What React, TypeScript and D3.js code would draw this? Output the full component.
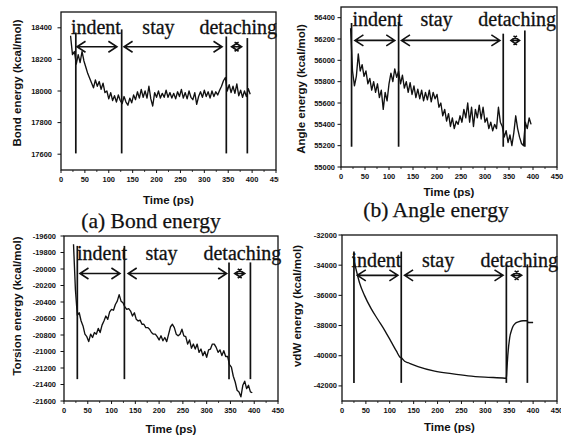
import React from "react";
import * as d3 from "d3";

const W = 575;
const H = 438;

// sample grid (ps) shared by the three noisy energy traces
const times = d3.range(20, 400, 4);

const bondEnergy = [
  18350, 18230, 18250, 18170, 18230, 18180, 18250, 18190, 18150, 18110,
  18080, 18050, 18020, 18070, 18030, 18060, 18010, 18050, 17990, 18000,
  17950, 17990, 17940, 17970, 17930, 17975, 17940, 17920, 17965, 17930,
  17910, 17955, 17925, 17975, 17945, 17995, 17955, 18010, 17960, 18000,
  17955, 18030, 17950, 17905, 17990, 17960, 18000, 17955, 17985, 17960,
  18005, 17960, 17990, 17955, 17985, 17950, 17995, 17965, 18010, 17955,
  17990, 17950, 18000, 17960, 17945, 17990, 17915, 17965, 17995, 17960,
  18005, 17965, 17995, 17955, 18000, 17965, 17995, 17975, 18005, 18030,
  18065, 18085, 18000, 18040, 17990, 18030, 17985, 18045, 17970, 18005,
  17960, 18000, 17965, 18015, 17980,
];

const angleEnergy = [
  56300, 55900, 55760, 55850, 56060, 55900, 55960, 55850, 55900, 55780,
  55830, 55720, 55800, 55700, 55780, 55650, 55720, 55540, 55700, 55620,
  55780, 55880, 55800, 55920, 55840, 55900, 55780, 55860, 55740, 55800,
  55700, 55790, 55680, 55760, 55650, 55730, 55640, 55720, 55620, 55700,
  55630, 55720, 55610, 55700, 55640, 55680, 55560, 55600, 55480, 55540,
  55430, 55500, 55380, 55460, 55360, 55430, 55400, 55480, 55420, 55540,
  55460, 55600, 55420, 55560, 55380, 55540, 55460, 55580, 55450, 55560,
  55420, 55460, 55360, 55420, 55340, 55400, 55360, 55560, 55420, 55380,
  55280, 55340, 55230, 55300, 55200, 55320, 55480, 55360, 55280, 55220,
  55200, 55420, 55360, 55460, 55400,
];

const torsionEnergy = [
  -19700, -20250, -20560, -20530, -20630, -20690, -20790, -20820, -20880, -20790,
  -20830, -20770, -20790, -20720, -20770, -20680, -20630, -20570, -20610, -20520,
  -20490, -20500, -20430, -20390, -20310, -20390, -20410, -20460, -20490, -20480,
  -20510, -20570, -20530, -20610, -20630, -20620, -20670, -20670, -20710, -20710,
  -20730, -20770, -20790, -20790, -20820, -20860, -20810, -20870, -20830, -20880,
  -20790, -20700, -20670, -20710, -20790, -20810, -20790, -20730, -20810, -20820,
  -20910, -20860, -20960, -20910, -20970, -20910, -21010, -20970, -21050, -21000,
  -21070, -20980, -20970, -20910, -20910, -20950, -21010, -20980, -21050, -20990,
  -21060, -21060, -21160, -21190, -21300, -21370, -21470, -21490, -21550, -21410,
  -21360, -21450, -21410, -21490, -21500,
];

const vdwTimes = [
  23, 30, 37, 47, 61, 75, 89, 103, 114, 121, 125, 131, 138, 159, 194, 229,
  264, 299, 341, 344, 345, 347, 351, 355, 358, 363, 369, 379, 388, 389, 400,
];
const vdwEnergy = [
  -33400, -34350, -35200, -36000, -36880, -37600, -38300, -39080, -39700,
  -40080, -40160, -40370, -40460, -40720, -41020, -41190, -41330, -41420,
  -41490, -41500, -41000, -40000, -38800, -38300, -38050, -37850, -37760,
  -37680, -37680, -37800, -37800,
];

const xTicks = d3.range(0, 451, 50);
const xMinorTicks = d3.range(25, 450, 50);
const phaseNames = ["indent", "stay", "detaching"];

// phase boundaries (ps) drawn as vertical lines, with their top ends (energy)
const bondBounds = [31, 127, 346, 390];
const bondBoundTops = [18370, 18390, 18345, 18335];
const angleBounds = [22, 120, 338, 383];
const angleBoundTops = [56350, 56360, 56250, 56280];
const torsionBounds = [28, 127, 347, 392];
const torsionBoundTops = [-19720, -19720, -19920, -19920];
const vdwBounds = [25, 124, 344, 388];
const vdwBoundTops = [-33100, -33100, -33950, -33950];

// double arrows [from, to] in ps, one per phase
const bondArrows: [number, number][] = [[33.5, 117], [132, 337], [357, 378]];
const angleArrows: [number, number][] = [[29, 112], [126, 331], [354, 372]];
const torsionArrows: [number, number][] = [[33.6, 117.6], [135, 342], [359, 380]];
const vdwArrows: [number, number][] = [[32, 117], [131, 337], [355, 376]];

// phase label centres (ps)
const bondLabelX = [73, 204, 371];
const angleLabelX = [76, 199, 367];
const torsionLabelX = [80, 205, 375];
const vdwLabelX = [72, 201, 371];

const serif = "'Liberation Serif', 'Times New Roman', serif";
const sans = "'Liberation Sans', Arial, sans-serif";
const ink = "#111";

type PanelDef = {
  id: string;
  t: number[];
  v: number[];
  smooth?: boolean;
  yDomain: [number, number];
  yTicks: number[];
  yTitle: string;
  caption?: string;
  bounds: number[];
  boundTops: number[];
  boundBottom: number;
  arrows: [number, number][];
  arrowY: number;
  labelX: number[];
  labelY: number;
  box: { l: number; r: number; t: number; b: number };
  labelGap: number;
  yTitlePos: [number, number];
  xTitleY: number;
  captionPos?: [number, number];
  clipRight: number;
};

const panels: PanelDef[] = [
  {
    id: "a", t: times, v: bondEnergy,
    yDomain: [17500, 18500], yTicks: d3.range(17600, 18401, 200),
    yTitle: "Bond energy (kcal/mol)", caption: "(a) Bond energy",
    bounds: bondBounds, boundTops: bondBoundTops, boundBottom: 17605,
    arrows: bondArrows, arrowY: 18280, labelX: bondLabelX, labelY: 18360,
    box: { l: 61, r: 276, t: 12, b: 170 }, labelGap: 9, yTitlePos: [17, 83], xTitleY: 204,
    captionPos: [151, 228], clipRight: 278.5,
  },
  {
    id: "b", t: times, v: angleEnergy,
    yDomain: [55000, 56500], yTicks: d3.range(55000, 56401, 200),
    yTitle: "Angle energy (kcal/mol)", caption: "(b) Angle energy",
    bounds: angleBounds, boundTops: angleBoundTops, boundBottom: 55190,
    arrows: angleArrows, arrowY: 56187, labelX: angleLabelX, labelY: 56320,
    box: { l: 341, r: 557, t: 7, b: 167 }, labelGap: 6, yTitlePos: [301, 89], xTitleY: 196,
    captionPos: [436, 216.5], clipRight: 575,
  },
  {
    id: "c", t: times, v: torsionEnergy,
    yDomain: [-21600, -19600], yTicks: d3.range(-21600, -19599, 200),
    yTitle: "Torsion energy (kcal/mol)",
    bounds: torsionBounds, boundTops: torsionBoundTops, boundBottom: -21335,
    arrows: torsionArrows, arrowY: -20055, labelX: torsionLabelX, labelY: -19885,
    box: { l: 64, r: 278, t: 236, b: 401 }, labelGap: 8, yTitlePos: [17, 306], xTitleY: 433,
    clipRight: 290,
  },
  {
    id: "d", t: vdwTimes, v: vdwEnergy, smooth: true,
    yDomain: [-43000, -32000], yTicks: d3.range(-42000, -31999, 2000),
    yTitle: "vdW energy (kcal/mol)",
    bounds: vdwBounds, boundTops: vdwBoundTops, boundBottom: -41800,
    arrows: vdwArrows, arrowY: -34675, labelX: vdwLabelX, labelY: -34100,
    box: { l: 342, r: 557, t: 235, b: 401 }, labelGap: 5, yTitlePos: [297, 306], xTitleY: 431,
    clipRight: 561,
  },
];

const arrowPath = (x1: number, x2: number, y: number) => {
  const len = x2 - x1;
  const h = Math.min(8.5, len * 0.7);
  const w = len < 30 ? 4.5 : 5.5;
  return `M${x1},${y}L${x2},${y}` +
    `M${x1 + h},${y - w}L${x1},${y}L${x1 + h},${y + w}` +
    `M${x2 - h},${y - w}L${x2},${y}L${x2 - h},${y + w}`;
};

const Panel = ({ p }: { p: PanelDef }) => {
  const { l, r, t, b } = p.box;
  const x = d3.scaleLinear().domain([0, 450]).range([l, r]);
  const y = d3.scaleLinear().domain(p.yDomain).range([b, t]);
  const path = d3
    .line<number>()
    .x((_, i) => x(p.t[i]))
    .y((d) => y(d))
    .curve(p.smooth ? d3.curveMonotoneX : d3.curveLinear)(p.v);

  return (
    <g clipPath={`url(#clip-${p.id})`}>
      <defs>
        <clipPath id={`clip-${p.id}`}>
          <rect x={0} y={0} width={p.clipRight} height={H} />
        </clipPath>
      </defs>
      <rect x={l} y={t} width={r - l} height={b - t} fill="none" stroke={ink} strokeWidth={1.3} />

      {xTicks.map((v) => (
        <g key={`xt${v}`}>
          <line x1={x(v)} x2={x(v)} y1={b} y2={b + 3} stroke={ink} strokeWidth={1} />
          <text x={x(v)} y={b + 9} textAnchor="middle" dominantBaseline="central"
            fontFamily={sans} fontWeight="bold" fontSize={7.5} fill={ink}>{v}</text>
        </g>
      ))}
      {xMinorTicks.map((v) => (
        <line key={`xm${v}`} x1={x(v)} x2={x(v)} y1={b} y2={b + 2} stroke={ink} strokeWidth={0.8} />
      ))}
      {p.yTicks.map((v) => (
        <g key={`yt${v}`}>
          <line x1={l - 3.5} x2={l} y1={y(v)} y2={y(v)} stroke={ink} strokeWidth={1} />
          <text x={l - p.labelGap} y={y(v)} textAnchor="end" dominantBaseline="central"
            fontFamily={sans} fontWeight="bold" fontSize={7.5} fill={ink}>{String(v)}</text>
        </g>
      ))}

      <text x={(l + r) / 2} y={p.xTitleY} textAnchor="middle"
        fontFamily={sans} fontWeight="bold" fontSize={11.5} fill={ink}>Time (ps)</text>
      <text transform={`translate(${p.yTitlePos[0]},${p.yTitlePos[1]}) rotate(-90)`}
        textAnchor="middle" dominantBaseline="central"
        fontFamily={sans} fontWeight="bold" fontSize={11.5} fill={ink}>{p.yTitle}</text>

      {p.bounds.map((v, i) => (
        <line key={`bd${i}`} x1={x(v)} x2={x(v)} y1={y(p.boundTops[i])} y2={y(p.boundBottom)}
          stroke={ink} strokeWidth={1.7} />
      ))}

      <path d={path ?? ""} fill="none" stroke={ink} strokeWidth={1.35} strokeLinejoin="round" />

      {p.arrows.map(([a, c], i) => (
        <path key={`ar${i}`} d={arrowPath(x(a), x(c), y(p.arrowY))} fill="none"
          stroke={ink} strokeWidth={1.6} />
      ))}
      {phaseNames.map((name, i) => (
        <text key={name} x={x(p.labelX[i])} y={y(p.labelY)} textAnchor="middle"
          fontFamily={serif} fontSize={20} fill={ink} stroke={ink} strokeWidth={0.3}>{name}</text>
      ))}

      {p.caption && p.captionPos && (
        <text x={p.captionPos[0]} y={p.captionPos[1]} textAnchor="middle"
          fontFamily={serif} fontSize={21.5} fill={ink} stroke={ink} strokeWidth={0.25}>{p.caption}</text>
      )}
    </g>
  );
};

export default function App() {
  return (
    <svg width={W} height={H} viewBox={`0 0 ${W} ${H}`}
      style={{ position: "absolute", left: 0, top: 0, background: "#fff" }}>
      <rect x={0} y={0} width={W} height={H} fill="#fff" />
      {panels.map((p) => (
        <Panel key={p.id} p={p} />
      ))}
    </svg>
  );
}
